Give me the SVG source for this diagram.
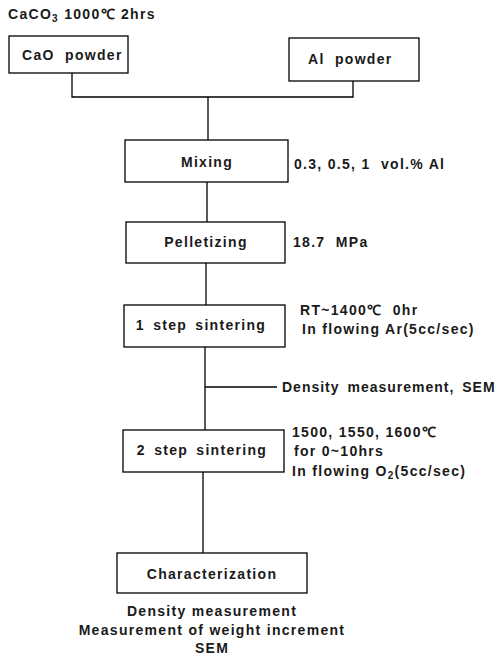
<svg xmlns="http://www.w3.org/2000/svg" width="500" height="666" viewBox="0 0 500 666">
<style>
.box{fill:#fff;stroke:#000;stroke-width:1.3}
.ln{fill:none;stroke:#000;stroke-width:1.3}
text{font-family:"Liberation Sans",Arial,sans-serif;font-weight:bold;font-size:14px;letter-spacing:1.3px;fill:#1a1a1a;white-space:pre}
.c{text-anchor:middle}
.ws{word-spacing:3px}
</style>
<rect width="500" height="666" fill="#fff"/>
<text x="8" y="19">CaCO<tspan font-size="10" dy="3">3</tspan><tspan dy="-3"> 1000℃ 2hrs</tspan></text>
<g id="connectors">
<polyline class="ln" points="72,73 72,97 353,97 353,81"/>
<line class="ln" x1="208" y1="97" x2="208" y2="140"/>
<line class="ln" x1="207" y1="182" x2="207" y2="222"/>
<line class="ln" x1="206" y1="263" x2="206" y2="305"/>
<line class="ln" x1="205" y1="347" x2="205" y2="430"/>
<line class="ln" x1="205" y1="387" x2="277" y2="387"/>
<line class="ln" x1="203" y1="472" x2="203" y2="553"/>
</g>
<g id="cao"><rect class="box" x="9" y="36" width="119" height="37"/><text x="22" y="60">CaO  powder</text></g>
<g id="al"><rect class="box" x="289" y="38" width="130" height="43"/><text x="308" y="64">Al  powder</text></g>
<g id="mixing"><rect class="box" x="125" y="140" width="163" height="42"/><text class="c" x="207" y="167">Mixing</text><text x="294" y="169">0.3, 0.5, 1  vol.% Al</text></g>
<g id="pelletizing"><rect class="box" x="126" y="222" width="159" height="41"/><text class="c" x="206" y="247">Pelletizing</text><text x="293" y="247">18.7  MPa</text></g>
<g id="step1"><rect class="box" x="124" y="305" width="161" height="42"/><text class="c ws" x="201" y="330">1 step sintering</text><text x="300" y="315">RT~1400℃  0hr</text><text x="302" y="334">In flowing Ar(5cc/sec)</text></g>
<g id="density"><text x="282" y="392" style="letter-spacing:1px" class="ws">Density measurement, SEM</text></g>
<g id="step2"><rect class="box" x="123" y="430" width="161" height="42"/><text class="c ws" x="202" y="455">2 step sintering</text><text x="292" y="437">1500, 1550, 1600℃</text><text x="294" y="456">for 0~10hrs</text><text x="292" y="476">In flowing O<tspan font-size="10" dy="3">2</tspan><tspan dy="-3">(5cc/sec)</tspan></text></g>
<g id="char"><rect class="box" x="117" y="553" width="190" height="40"/><text class="c" x="212" y="579">Characterization</text><text class="c" x="212" y="616">Density measurement</text><text class="c" x="212" y="635">Measurement of weight increment</text><text class="c" x="212" y="653">SEM</text></g>
</svg>
